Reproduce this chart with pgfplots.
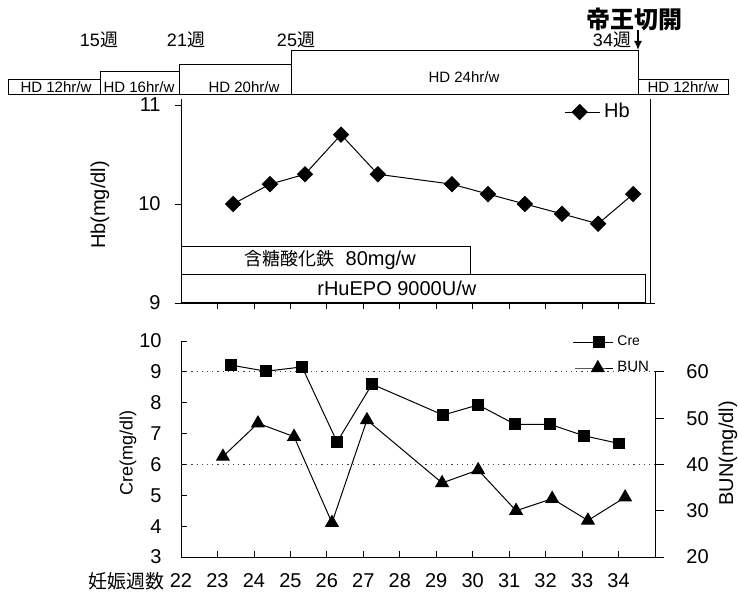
\documentclass[border=0pt]{standalone}
\usepackage{fontspec}
\setmainfont{Liberation Sans}
\newfontfamily\cjk{Noto Sans CJK JP}
\usepackage{pgfplots}
\pgfplotsset{compat=1.18}
\usetikzlibrary{arrows.meta}
\newcommand{\fs}[1]{\fontsize{#1}{#1}\selectfont}

\pgfplotstableread{
x y
23.43 10.0
24.44 10.2
25.40 10.3
26.39 10.7
27.40 10.3
29.43 10.2
30.42 10.1
31.43 10.0
32.45 9.9
33.44 9.8
34.40 10.1
}\hbdata
\pgfplotstableread{
x y
23.37 9.22
24.33 9.02
25.32 9.16
26.28 6.73
27.24 8.60
29.19 7.60
30.15 7.93
31.16 7.30
32.12 7.30
33.05 6.93
34.01 6.68
}\credata
\pgfplotstableread{
x y
23.15 41.7
24.11 48.9
25.10 46.0
26.14 27.4
27.10 49.6
29.16 36.0
30.15 38.8
31.19 30.0
32.18 32.6
33.16 27.9
34.18 32.9
}\bundata

\pgfplotsset{
  every axis/.append style={
    /pgf/number format/assume math mode=true,
    tick label style={font=\fs{10}},
    axis line style={line width=0.4pt},
    every tick/.style={black, line width=0.4pt},
    clip=false,
    scale only axis,
  },
}

\begin{document}
\begin{tikzpicture}
\path[use as bounding box] (0,0) rectangle (369pt,-299.5pt);

% ---------- upper panel: Hb ----------
\begin{axis}[
  at={(90.5pt,-151.5pt)}, anchor=south west,
  width=237pt, height=102pt,
  xmin=22, xmax=35, ymin=9, ymax=11.06,
  axis lines*=left,
  tick align=outside, major tick length=3pt,
  xtick={23,...,34}, xticklabels={},
  ytick={9,10,11},
  yticklabel style={anchor=east, inner sep=0pt, xshift=-7pt},
  ylabel={Hb(mg/dl)},
  ylabel style={at={(axis description cs:-0.171,0.48)}, anchor=center, font=\fs{10}},
  legend style={draw=none, fill=none, inner sep=0pt, at={(0.956,0.936)}, anchor=east, font=\fs{10}},
  legend image code/.code={\draw[mark repeat=2,mark phase=2,#1] plot coordinates {(0pt,0pt) (7.5pt,0pt) (17.5pt,0pt)};},
]
\draw[line width=0.4pt] (axis cs:22,9.293) rectangle (axis cs:29.93,9.576);
\draw[line width=0.4pt] (axis cs:22,9.01) rectangle (axis cs:34.75,9.293);
\node[font=\fs{10}] at (axis cs:26.09,9.435) {{\cjk\fs{9}含糖酸化鉄}\ \ 80mg/w};
\node[font=\fs{10}] at (axis cs:27.92,9.15) {rHuEPO 9000U/w};
\draw[line width=0.4pt] (axis cs:34.86,9) -- (axis cs:34.86,11.06);
\addplot[black, line width=0.5pt, mark=square*, mark size=2.65pt,
  mark options={rotate=45, solid, fill=black}] table[x=x,y=y] {\hbdata};
\addlegendentry{Hb}
\end{axis}

% ---------- lower panel: Cre (left) ----------
\begin{axis}[
  at={(90.5pt,-278.5pt)}, anchor=south west,
  width=237pt, height=108pt,
  xmin=22, xmax=35, ymin=3, ymax=10,
  axis lines*=left,
  tick align=inside, major tick length=3pt,
  xtick={22,...,34},
  ytick={3,...,10},
  xticklabel style={anchor=center, yshift=-12pt},
  yticklabel style={anchor=east, inner sep=0pt, xshift=-9.5pt},
  ylabel={Cre(mg/dl)},
  ylabel style={at={(axis description cs:-0.112,0.48)}, anchor=center, font=\fs{9}},
  xlabel={\cjk 妊娠週数},
  xlabel style={at={(axis description cs:-0.116,-0.111)}, anchor=center, font=\fs{9.5}},
  legend style={draw=none, fill=none, inner sep=0pt, at={(0.825,0.995)}, anchor=west, font=\fs{7}},
  legend image code/.code={\draw[mark repeat=2,mark phase=2,#1] plot coordinates {(0pt,0pt) (13pt,0pt) (20pt,0pt)};},
]
\draw[dotted, line width=0.6pt, black!75] (axis cs:22,9) -- (axis cs:35,9);
\draw[dotted, line width=0.6pt, black!75] (axis cs:22,6) -- (axis cs:35,6);
\addplot[black, line width=0.5pt, mark=square*, mark size=2.7pt,
  mark options={solid, fill=black}] table[x=x,y=y] {\credata};
\addlegendentry{Cre}
\end{axis}

% ---------- lower panel: BUN (right) ----------
\begin{axis}[
  at={(90.5pt,-278.5pt)}, anchor=south west,
  width=237pt, height=108pt,
  xmin=22, xmax=35, ymin=20, ymax=66.6667,
  axis x line=none, axis y line*=right,
  y axis line style={draw=none},
  tick align=outside, major tick length=4.5pt,
  ytick={20,30,...,60},
  yticklabel style={anchor=west, inner sep=0pt, xshift=11pt},
  ylabel={BUN(mg/dl)},
  ylabel style={at={(axis description cs:1.154,0.48)}, anchor=center, font=\fs{10}},
  legend style={draw=none, fill=none, inner sep=0pt, at={(0.829,0.875)}, anchor=west, font=\fs{7.5}},
  legend image code/.code={\draw[mark repeat=2,mark phase=2,#1] plot coordinates {(0pt,0pt) (11.5pt,0pt) (19pt,0pt)};},
]
\draw[line width=0.4pt] (axis cs:35,20) -- (axis cs:35,60);
\addplot[black, line width=0.5pt, mark=triangle*, mark size=3.6pt,
  mark options={solid, fill=black}] table[x=x,y=y] {\bundata};
\addlegendentry{BUN}
\end{axis}

% ---------- dialysis schedule (top) ----------
\begin{scope}[x=0.5pt, y=-0.5pt, line width=0.4pt]
\draw (8,79) rectangle (100,94);
\draw (100,71) rectangle (179,94);
\draw (179,64) rectangle (291,94);
\draw (291,50) rectangle (638,94);
\draw (638,79) rectangle (728,94);
\node[font=\fs{7.5}] at (56,87) {HD 12hr/w};
\node[font=\fs{7.5}] at (139,87) {HD 16hr/w};
\node[font=\fs{7.5}] at (244,87) {HD 20hr/w};
\node[font=\fs{7.5}] at (464,77) {HD 24hr/w};
\node[font=\fs{7.5}] at (683,87) {HD 12hr/w};
\node[font=\fs{9}] at (99,40) {15{\cjk 週}};
\node[font=\fs{9}] at (186,40) {21{\cjk 週}};
\node[font=\fs{9}] at (296,40) {25{\cjk 週}};
\node[font=\fs{9}] at (612,40) {34{\cjk 週}};
\draw[line width=0.8pt, -{Latex[length=4.5pt,width=4pt]}] (638,30) -- (638,50);
\node[font=\fs{12}] at (634,19) {\cjk\bfseries 帝王切開};
\end{scope}
\end{tikzpicture}
\end{document}
